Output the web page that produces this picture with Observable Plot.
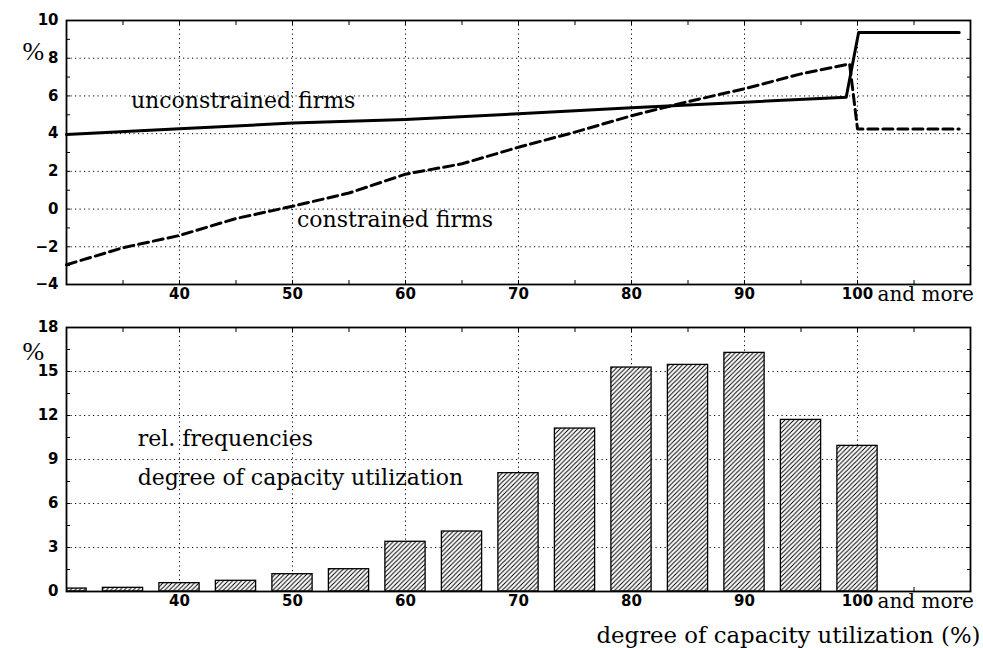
<!DOCTYPE html>
<html><head><meta charset="utf-8">
<script src="https://cdn.jsdelivr.net/npm/d3@7"></script>
<script src="https://cdn.jsdelivr.net/npm/@observablehq/plot@0.6"></script>
<style>
body{margin:0;background:#fff}
#chart{width:983px}
#chart svg{display:block;overflow:visible}
</style>
</head><body><div id="chart"></div>
<script>
// ---- data ----
const uncX = [30, 40, 50, 60, 70, 80, 90, 99.0, 100.1, 109];
const uncY = [3.95, 4.26, 4.56, 4.75, 5.05, 5.37, 5.67, 5.93, 9.36, 9.36];
const conX = [30, 35, 40, 45, 50, 55, 60, 65, 70, 75, 80, 85, 90, 95, 99.3, 100.0, 109];
const conY = [-2.95, -2.05, -1.4, -0.5, 0.15, 0.85, 1.85, 2.4, 3.28, 4.08, 4.95, 5.7, 6.38, 7.17, 7.7, 4.25, 4.25];
const binCenters = [30, 35, 40, 45, 50, 55, 60, 65, 70, 75, 80, 85, 90, 95, 100];
const relFreq = [0.2, 0.25, 0.57, 0.73, 1.18, 1.52, 3.39, 4.09, 8.07, 11.11, 15.27, 15.45, 16.27, 11.7, 9.93];
const xTickLabels = [40, 50, 60, 70, 80, 90, 100];
const xMinorTicks = [35, 40, 45, 50, 55, 60, 65, 70, 75, 80, 85, 90, 95, 100, 105];
const yTicksTop = [-4, -2, 0, 2, 4, 6, 8, 10];
const yGridTop = [-2, 0, 2, 4, 6, 8];
const yMinorTop = [-3, -2, -1, 0, 1, 2, 3, 4, 5, 6, 7, 8, 9];
const yTicksBottom = [0, 3, 6, 9, 12, 15, 18];
const yGridBottom = [3, 6, 9, 12, 15];
const yMinorBottom = [1.5, 3, 4.5, 6, 7.5, 9, 10.5, 12, 13.5, 15, 16.5];
const barWidth = 3.56; // in x units

const unconstrained = uncX.map((x, i) => ({x, y: uncY[i]}));
const constrained = conX.map((x, i) => ({x, y: conY[i]}));
const bars = binCenters.map((c, i) => ({c, v: relFreq[i]}));

const serif = "DejaVu Serif";
const serifSize = 22;
const tickFont = "DejaVu Sans";
const tickSize = 15;
const fmt = d => String(d).replace("-", "\u2212");
const dots = "1.2,3.3";
const baseStyle = {color: "black", background: "white"};

function frameAxes(minorY, gridY) {
  return [
    Plot.gridY(gridY, {stroke: "black", strokeOpacity: 1, strokeWidth: 1, strokeDasharray: dots}),
    Plot.gridX(xTickLabels, {stroke: "black", strokeOpacity: 1, strokeWidth: 1, strokeDasharray: dots}),
    Plot.axisY(minorY, {anchor: "left", tickSize: -4, tickFormat: () => "", label: null}),
    Plot.axisY(minorY, {anchor: "right", tickSize: -4, tickFormat: () => "", label: null}),
    Plot.axisX(xMinorTicks, {anchor: "bottom", tickSize: -4, tickFormat: () => "", label: null}),
    Plot.axisX(xMinorTicks, {anchor: "top", tickSize: -4, tickFormat: () => "", label: null}),
    Plot.text(xTickLabels, {x: d => d, frameAnchor: "bottom", dy: 10, text: d => String(d),
      lineAnchor: "middle", fontFamily: tickFont, fontSize: tickSize, fontWeight: "bold", fill: "black"}),
    Plot.text([100], {x: d => d, frameAnchor: "bottom", dy: 10, dx: 20, text: () => "and more",
      textAnchor: "start", lineAnchor: "middle", fontFamily: serif, fontSize: 20, fill: "black"})
  ];
}

function yLabels(values) {
  return Plot.text(values, {y: d => d, frameAnchor: "left", dx: -8, text: fmt, textAnchor: "end",
    lineAnchor: "middle", fontFamily: tickFont, fontSize: tickSize, fontWeight: "bold", fill: "black"});
}

const topPlot = Plot.plot({
  width: 983, height: 305,
  marginLeft: 66, marginRight: 13, marginTop: 20, marginBottom: 21,
  x: {domain: [30, 110], label: null},
  y: {domain: [-4, 10], label: null},
  style: baseStyle,
  marks: [
    ...frameAxes(yMinorTop, yGridTop),
    yLabels(yTicksTop),
    Plot.line(unconstrained, {x: "x", y: "y", stroke: "black", strokeWidth: 3}),
    Plot.line(constrained, {x: "x", y: "y", stroke: "black", strokeWidth: 3, strokeDasharray: "10,5"}),
    Plot.frame({stroke: "black", strokeWidth: 1.8}),
    Plot.text(["unconstrained firms"], {x: 35.7, y: 5.76, textAnchor: "start", lineAnchor: "middle",
      fontFamily: serif, fontSize: serifSize, fill: "black"}),
    Plot.text(["constrained firms"], {x: 50.4, y: -0.6, textAnchor: "start", lineAnchor: "middle",
      fontFamily: serif, fontSize: serifSize, fill: "black"}),
    Plot.text(["%"], {frameAnchor: "top-left", dx: -44, dy: 31, lineAnchor: "middle",
      fontFamily: "Liberation Serif", fontSize: 26, fill: "black"})
  ]
});

function hatchDefs() {
  const defs = d3.create("svg:defs");
  const p = defs.append("pattern")
    .attr("id", "hatch").attr("patternUnits", "userSpaceOnUse")
    .attr("width", 4.5).attr("height", 4.5);
  p.append("rect").attr("width", 4.5).attr("height", 4.5).attr("fill", "white");
  p.append("path").attr("d", "M0,4.5 L4.5,0 M-1,1 L1,-1 M3.5,5.5 L5.5,3.5")
    .attr("stroke", "black").attr("stroke-width", 1);
  return defs.node();
}

const bottomPlot = Plot.plot({
  width: 983, height: 343,
  marginLeft: 66, marginRight: 13, marginTop: 22, marginBottom: 57,
  x: {domain: [30, 110], label: null},
  y: {domain: [0, 18], label: null},
  style: baseStyle,
  marks: [
    hatchDefs,
    ...frameAxes(yMinorBottom, yGridBottom),
    yLabels(yTicksBottom),
    Plot.rectY(bars, {x1: d => d.c - barWidth / 2, x2: d => d.c + barWidth / 2, y: "v",
      fill: "url(#hatch)", stroke: "black", strokeWidth: 1.3, clip: true}),
    Plot.frame({stroke: "black", strokeWidth: 1.8}),
    Plot.text(["rel. frequencies"], {x: 36.3, y: 10.4, textAnchor: "start", lineAnchor: "middle",
      fontFamily: serif, fontSize: serifSize, fill: "black"}),
    Plot.text(["degree of capacity utilization"], {x: 36.3, y: 7.77, textAnchor: "start", lineAnchor: "middle",
      fontFamily: serif, fontSize: serifSize, fill: "black"}),
    Plot.text(["%"], {frameAnchor: "top-left", dx: -44, dy: 24, lineAnchor: "middle",
      fontFamily: "Liberation Serif", fontSize: 26, fill: "black"}),
    Plot.text(["degree of capacity utilization (%)"], {frameAnchor: "bottom-right", dx: 10, dy: 44,
      textAnchor: "end", lineAnchor: "middle", fontFamily: serif, fontSize: 22.8, fill: "black"})
  ]
});

const chart = document.getElementById("chart");
chart.appendChild(topPlot);
chart.appendChild(bottomPlot);
</script>
</body></html>
